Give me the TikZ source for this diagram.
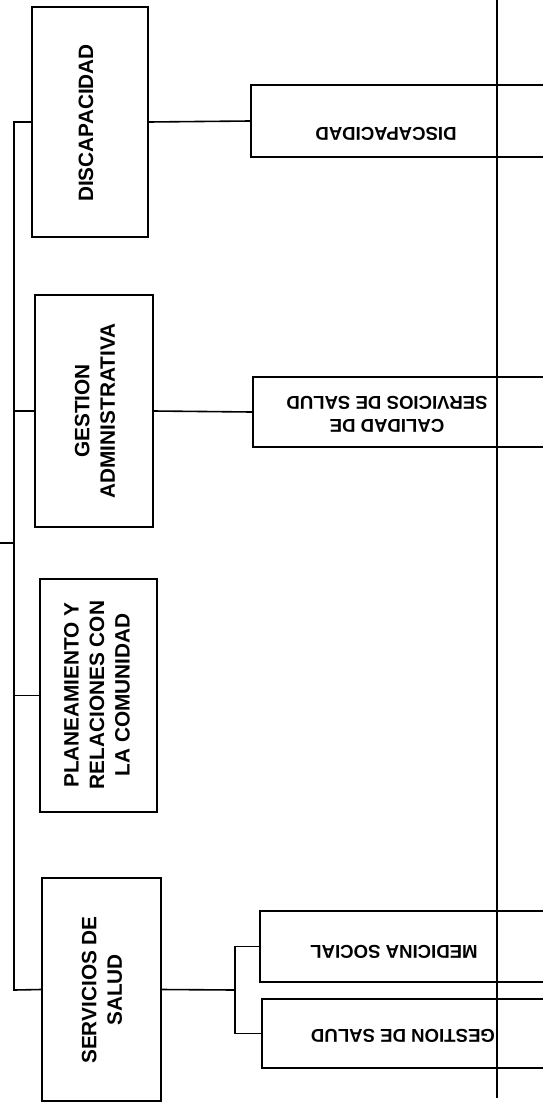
\documentclass[tikz,border=0pt]{standalone}
\usepackage{fontspec}
\setsansfont{Liberation Sans}

\tikzset{box/.style={draw, line width=1.6pt, inner sep=0pt},
	sidetext/.style={rotate=90, align=center, inner sep=0pt, font=\sffamily\bfseries\fontsize{20.8}{25.5}\selectfont},
	flattext/.style={rotate=180, align=center, inner sep=0pt, font=\sffamily\bfseries\fontsize{18.6}{23}\selectfont},
	link/.style={line width=1.6pt}}

\begin{document}
\begin{tikzpicture}[x=1pt,y=-1pt]
		\useasboundingbox (0,0) rectangle (543,1103);
		\clip (0,0) rectangle (543,1103);
		
		% left column boxes
		\node[box, minimum width=116pt, minimum height=230pt] (lDis) at (90,122) {};
		\node[box, minimum width=118pt, minimum height=232pt] (lGes) at (94,411) {};
		\node[box, minimum width=117pt, minimum height=233pt] (lPla) at (98.5,695.5) {};
		\node[box, minimum width=119pt, minimum height=223pt] (lSer) at (101.5,989.5) {};
		
		\node[sidetext] (tDis) at (86,123) {DISCAPACIDAD};
		\node[sidetext] (tGes) at (95,411) {GESTION\\ADMINISTRATIVA};
		\node[sidetext] (tPla) at (97,695) {PLANEAMIENTO Y\\RELACIONES CON\\LA COMUNIDAD};
		\node[sidetext] (tSer) at (102,990) {SERVICIOS DE\\SALUD};
		
		% right column boxes (run off the page)
		\node[box, anchor=west, minimum width=310pt, minimum height=72pt] (rDis) at (250,121) {};
		\node[box, anchor=west, minimum width=308pt, minimum height=70pt] (rCal) at (252,412) {};
		\node[box, anchor=west, minimum width=301pt, minimum height=71pt] (rMed) at (259,946.5) {};
		\node[box, anchor=west, minimum width=299pt, minimum height=69pt] (rGsa) at (261,1033.5) {};
		
		\node[flattext] (tDis2) at (386,134) {DISCAPACIDAD};
		\node[flattext] (tCal) at (387,414) {CALIDAD DE\\SERVICIOS DE SALUD};
		\node[flattext] (tMed) at (394,952) {MEDICINA SOCIAL};
		\node[flattext] (tGsa) at (403,1036) {GESTION DE SALUD};
		
		% trunk on the left
		\coordinate (tTop) at (14,122);
		\coordinate (tBot) at (14,990);
		\coordinate (tUp) at (0,543);
		\draw[link] (lDis.west) -- (tTop) -- (tBot) -- (lSer.west);
		\draw[link] (lGes.west) -- (lGes.west -| tTop);
		\draw[link] (lPla.west) -- (lPla.west -| tTop);
		\draw[link] (tUp) -- (tUp -| tTop);
		
		% links to the right column
		\coordinate (fork) at (235,990);
		\draw[link] (lDis.east) -- (rDis.west);
		\draw[link] (lGes.east) -- (rCal.west);
		\draw[link] (lSer.east) -- (fork);
		\draw[link] (rMed.west) -| (fork) |- (rGsa.west);
		
		% long vertical line on the right
		\coordinate (vTop) at (497,0);
		\coordinate (vBot) at (497,1098);
		\draw[line width=1.8pt] (vTop) -- (vBot);
\end{tikzpicture}
\end{document}
